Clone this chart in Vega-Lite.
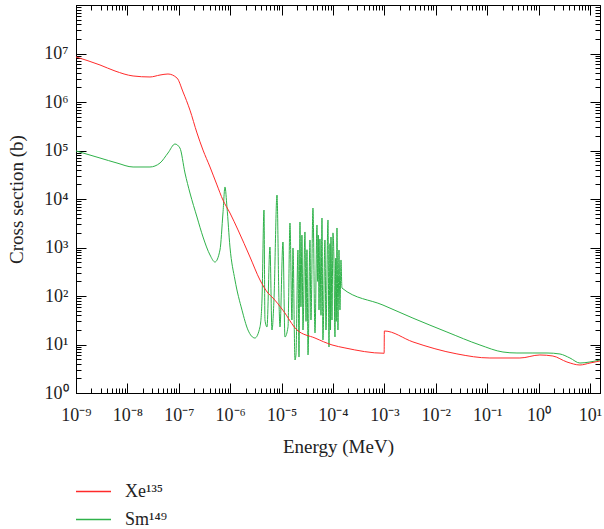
{
  "$schema": "https://vega.github.io/schema/vega-lite/v6.json",
  "width": 524,
  "height": 388,
  "autosize": {"type": "none"},
  "padding": {"left": 76, "top": 5, "right": 4, "bottom": 136},
  "background": "white",
  "config": {
    "view": {"stroke": "black", "strokeWidth": 1},
    "font": "Liberation Serif"
  },
  "data": {
    "values": [
      {"iso": "Sm¹⁴⁹", "E": 1e-9, "s": 98000},
      {"iso": "Sm¹⁴⁹", "E": 2.93e-9, "s": 70000},
      {"iso": "Sm¹⁴⁹", "E": 6.28e-9, "s": 55200},
      {"iso": "Sm¹⁴⁹", "E": 1.29e-8, "s": 45700},
      {"iso": "Sm¹⁴⁹", "E": 2.75e-8, "s": 45700},
      {"iso": "Sm¹⁴⁹", "E": 4.31e-8, "s": 55200},
      {"iso": "Sm¹⁴⁹", "E": 6.16e-8, "s": 88800},
      {"iso": "Sm¹⁴⁹", "E": 8.43e-8, "s": 136000},
      {"iso": "Sm¹⁴⁹", "E": 1.05e-7, "s": 113000},
      {"iso": "Sm¹⁴⁹", "E": 1.32e-7, "s": 34400},
      {"iso": "Sm¹⁴⁹", "E": 1.65e-7, "s": 13300},
      {"iso": "Sm¹⁴⁹", "E": 2.26e-7, "s": 4250},
      {"iso": "Sm¹⁴⁹", "E": 2.96e-7, "s": 1650},
      {"iso": "Sm¹⁴⁹", "E": 4.05e-7, "s": 700},
      {"iso": "Sm¹⁴⁹", "E": 5.06e-7, "s": 502},
      {"iso": "Sm¹⁴⁹", "E": 6.33e-7, "s": 888},
      {"iso": "Sm¹⁴⁹", "E": 7.24e-7, "s": 5150},
      {"iso": "Sm¹⁴⁹", "E": 7.92e-7, "s": 17700},
      {"iso": "Sm¹⁴⁹", "E": 8.66e-7, "s": 6800},
      {"iso": "Sm¹⁴⁹", "E": 9.91e-7, "s": 1020},
      {"iso": "Sm¹⁴⁹", "E": 1.24e-6, "s": 214},
      {"iso": "Sm¹⁴⁹", "E": 1.70e-6, "s": 51},
      {"iso": "Sm¹⁴⁹", "E": 2.22e-6, "s": 19.9},
      {"iso": "Sm¹⁴⁹", "E": 3.03e-6, "s": 13.6},
      {"iso": "Sm¹⁴⁹", "E": 3.80e-6, "s": 23},
      {"iso": "Sm¹⁴⁹", "E": 4.16e-6, "s": 82.7},
      {"iso": "Sm¹⁴⁹", "E": 4.55e-6, "s": 5930},
      {"iso": "Sm¹⁴⁹", "E": 4.75e-6, "s": 32},
      {"iso": "Sm¹⁴⁹", "E": 5.20e-6, "s": 23},
      {"iso": "Sm¹⁴⁹", "E": 5.94e-6, "s": 1024},
      {"iso": "Sm¹⁴⁹", "E": 6.50e-6, "s": 19.9},
      {"iso": "Sm¹⁴⁹", "E": 7.11e-6, "s": 82.7},
      {"iso": "Sm¹⁴⁹", "E": 8.15e-6, "s": 12090},
      {"iso": "Sm¹⁴⁹", "E": 8.89e-6, "s": 82.7},
      {"iso": "Sm¹⁴⁹", "E": 9.31e-6, "s": 23},
      {"iso": "Sm¹⁴⁹", "E": 1.064e-5, "s": 1298},
      {"iso": "Sm¹⁴⁹", "E": 1.164e-5, "s": 14.3},
      {"iso": "Sm¹⁴⁹", "E": 1.334e-5, "s": 23},
      {"iso": "Sm¹⁴⁹", "E": 1.456e-5, "s": 3200},
      {"iso": "Sm¹⁴⁹", "E": 1.592e-5, "s": 32},
      {"iso": "Sm¹⁴⁹", "E": 1.667e-5, "s": 977},
      {"iso": "Sm¹⁴⁹", "E": 1.824e-5, "s": 4.79},
      {"iso": "Sm¹⁴⁹", "E": 1.905e-5, "s": 6.08},
      {"iso": "Sm¹⁴⁹", "E": 2.084e-5, "s": 888},
      {"iso": "Sm¹⁴⁹", "E": 2.183e-5, "s": 5.52},
      {"iso": "Sm¹⁴⁹", "E": 2.28e-5, "s": 3357},
      {"iso": "Sm¹⁴⁹", "E": 2.38e-5, "s": 60},
      {"iso": "Sm¹⁴⁹", "E": 2.49e-5, "s": 1800},
      {"iso": "Sm¹⁴⁹", "E": 2.61e-5, "s": 19.9},
      {"iso": "Sm¹⁴⁹", "E": 2.85e-5, "s": 2089},
      {"iso": "Sm¹⁴⁹", "E": 2.99e-5, "s": 30},
      {"iso": "Sm¹⁴⁹", "E": 3.12e-5, "s": 900},
      {"iso": "Sm¹⁴⁹", "E": 3.27e-5, "s": 6.08},
      {"iso": "Sm¹⁴⁹", "E": 3.57e-5, "s": 1428},
      {"iso": "Sm¹⁴⁹", "E": 3.73e-5, "s": 32},
      {"iso": "Sm¹⁴⁹", "E": 4.08e-5, "s": 6520},
      {"iso": "Sm¹⁴⁹", "E": 4.47e-5, "s": 17.3},
      {"iso": "Sm¹⁴⁹", "E": 4.89e-5, "s": 2911},
      {"iso": "Sm¹⁴⁹", "E": 5.03e-5, "s": 200},
      {"iso": "Sm¹⁴⁹", "E": 5.18e-5, "s": 1800},
      {"iso": "Sm¹⁴⁹", "E": 5.35e-5, "s": 51.4},
      {"iso": "Sm¹⁴⁹", "E": 5.58e-5, "s": 1500},
      {"iso": "Sm¹⁴⁹", "E": 5.85e-5, "s": 40},
      {"iso": "Sm¹⁴⁹", "E": 6.11e-5, "s": 4055},
      {"iso": "Sm¹⁴⁹", "E": 6.38e-5, "s": 12.4},
      {"iso": "Sm¹⁴⁹", "E": 6.98e-5, "s": 1428},
      {"iso": "Sm¹⁴⁹", "E": 7.31e-5, "s": 19.9},
      {"iso": "Sm¹⁴⁹", "E": 8.00e-5, "s": 3690},
      {"iso": "Sm¹⁴⁹", "E": 8.36e-5, "s": 8.88},
      {"iso": "Sm¹⁴⁹", "E": 8.75e-5, "s": 1200},
      {"iso": "Sm¹⁴⁹", "E": 8.95e-5, "s": 20},
      {"iso": "Sm¹⁴⁹", "E": 9.14e-5, "s": 1645},
      {"iso": "Sm¹⁴⁹", "E": 9.57e-5, "s": 32},
      {"iso": "Sm¹⁴⁹", "E": 1.0e-4, "s": 2000},
      {"iso": "Sm¹⁴⁹", "E": 1.045e-4, "s": 553},
      {"iso": "Sm¹⁴⁹", "E": 1.094e-4, "s": 14.3},
      {"iso": "Sm¹⁴⁹", "E": 1.13e-4, "s": 600},
      {"iso": "Sm¹⁴⁹", "E": 1.16e-4, "s": 30},
      {"iso": "Sm¹⁴⁹", "E": 1.197e-4, "s": 2524},
      {"iso": "Sm¹⁴⁹", "E": 1.250e-4, "s": 19.9},
      {"iso": "Sm¹⁴⁹", "E": 1.309e-4, "s": 888},
      {"iso": "Sm¹⁴⁹", "E": 1.368e-4, "s": 51.4},
      {"iso": "Sm¹⁴⁹", "E": 1.432e-4, "s": 553},
      {"iso": "Sm¹⁴⁹", "E": 1.496e-4, "s": 146},
      {"iso": "Sm¹⁴⁹", "E": 9.4e-4, "s": 65},
      {"iso": "Sm¹⁴⁹", "E": 3.6e-3, "s": 35},
      {"iso": "Sm¹⁴⁹", "E": 0.0165, "s": 18.1},
      {"iso": "Sm¹⁴⁹", "E": 0.0724, "s": 9.77},
      {"iso": "Sm¹⁴⁹", "E": 0.203, "s": 7.0},
      {"iso": "Sm¹⁴⁹", "E": 0.38, "s": 6.68},
      {"iso": "Sm¹⁴⁹", "E": 0.778, "s": 6.68},
      {"iso": "Sm¹⁴⁹", "E": 1.46, "s": 6.68},
      {"iso": "Sm¹⁴⁹", "E": 2.61, "s": 6.37},
      {"iso": "Sm¹⁴⁹", "E": 4.08, "s": 5.27},
      {"iso": "Sm¹⁴⁹", "E": 6.39, "s": 4.15},
      {"iso": "Sm¹⁴⁹", "E": 10, "s": 4.36},
      {"iso": "Sm¹⁴⁹", "E": 15.7, "s": 4.79},
      {"iso": "Xe¹³⁵", "E": 1e-9, "s": 8500000},
      {"iso": "Xe¹³⁵", "E": 2.93e-9, "s": 5800000},
      {"iso": "Xe¹³⁵", "E": 5.74e-9, "s": 4360000},
      {"iso": "Xe¹³⁵", "E": 1.29e-8, "s": 3440000},
      {"iso": "Xe¹³⁵", "E": 2.75e-8, "s": 3280000},
      {"iso": "Xe¹³⁵", "E": 4.31e-8, "s": 3600000},
      {"iso": "Xe¹³⁵", "E": 6.16e-8, "s": 3780000},
      {"iso": "Xe¹³⁵", "E": 9.23e-8, "s": 3120000},
      {"iso": "Xe¹³⁵", "E": 1.21e-7, "s": 1610000},
      {"iso": "Xe¹³⁵", "E": 1.65e-7, "s": 680000},
      {"iso": "Xe¹³⁵", "E": 2.26e-7, "s": 230000},
      {"iso": "Xe¹³⁵", "E": 2.96e-7, "s": 102000},
      {"iso": "Xe¹³⁵", "E": 4.05e-7, "s": 45700},
      {"iso": "Xe¹³⁵", "E": 5.53e-7, "s": 19500},
      {"iso": "Xe¹³⁵", "E": 7.24e-7, "s": 9500},
      {"iso": "Xe¹³⁵", "E": 9.91e-7, "s": 5140},
      {"iso": "Xe¹³⁵", "E": 1.42e-6, "s": 2300},
      {"iso": "Xe¹³⁵", "E": 2.43e-6, "s": 637},
      {"iso": "Xe¹³⁵", "E": 3.80e-6, "s": 214},
      {"iso": "Xe¹³⁵", "E": 5.44e-6, "s": 115},
      {"iso": "Xe¹³⁵", "E": 6.8e-6, "s": 91},
      {"iso": "Xe¹³⁵", "E": 1.06e-5, "s": 51},
      {"iso": "Xe¹³⁵", "E": 2.0e-5, "s": 19.9},
      {"iso": "Xe¹³⁵", "E": 4.47e-5, "s": 13.6},
      {"iso": "Xe¹³⁵", "E": 9.57e-5, "s": 9.8},
      {"iso": "Xe¹³⁵", "E": 1.71e-4, "s": 8.5},
      {"iso": "Xe¹³⁵", "E": 9.9e-4, "s": 6.6},
      {"iso": "Xe¹³⁵", "E": 1.0e-3, "s": 19},
      {"iso": "Xe¹³⁵", "E": 3.6e-3, "s": 11.3},
      {"iso": "Xe¹³⁵", "E": 0.0258, "s": 6.4},
      {"iso": "Xe¹³⁵", "E": 0.113, "s": 5.27},
      {"iso": "Xe¹³⁵", "E": 0.434, "s": 5.27},
      {"iso": "Xe¹³⁵", "E": 1.06, "s": 6.08},
      {"iso": "Xe¹³⁵", "E": 1.9, "s": 5.79},
      {"iso": "Xe¹³⁵", "E": 3.57, "s": 4.36},
      {"iso": "Xe¹³⁵", "E": 6.39, "s": 3.78},
      {"iso": "Xe¹³⁵", "E": 10, "s": 4.15},
      {"iso": "Xe¹³⁵", "E": 15.7, "s": 4.57}
    ]
  },
  "layer": [
    {
      "mark": {"type": "line", "strokeWidth": 1, "clip": true, "interpolate": "monotone"},
      "encoding": {
        "x": {
          "field": "E", "type": "quantitative",
          "scale": {"type": "log", "domain": [1e-9, 15.7], "nice": false},
          "axis": {
            "orient": "bottom",
            "values": [1e-9,2e-9,3e-9,4e-9,5e-9,6e-9,7e-9,8e-9,9e-9,1e-8,2e-8,3e-8,4e-8,5e-8,6e-8,7e-8,8e-8,9e-8,1e-7,2e-7,3e-7,4e-7,5e-7,6e-7,7e-7,8e-7,9e-7,1e-6,2e-6,3e-6,4e-6,5e-6,6e-6,7e-6,8e-6,9e-6,1e-5,2e-5,3e-5,4e-5,5e-5,6e-5,7e-5,8e-5,9e-5,1e-4,2e-4,3e-4,4e-4,5e-4,6e-4,7e-4,8e-4,9e-4,1e-3,2e-3,3e-3,4e-3,5e-3,6e-3,7e-3,8e-3,9e-3,0.01,0.02,0.03,0.04,0.05,0.06,0.07,0.08,0.09,0.1,0.2,0.3,0.4,0.5,0.6,0.7,0.8,0.9,1,2,3,4,5,6,7,8,9,10],
            "tickSize": {"condition": {"test": "abs(log(datum.value)/LN10 - round(log(datum.value)/LN10)) < 1e-6", "value": -10}, "value": -5},
            "tickColor": "black",
            "domainColor": "black",
            "grid": false,
            "labelExpr": "abs(log(datum.value)/LN10 - round(log(datum.value)/LN10)) < 1e-6 ? '10' + (round(log(datum.value)/LN10) < 0 ? '⁻' : '') + substring('⁰¹²³⁴⁵⁶⁷⁸⁹', abs(round(log(datum.value)/LN10)), abs(round(log(datum.value)/LN10)) + 1) : ''",
            "labelFont": "Liberation Serif",
            "labelFontSize": 18,
            "labelColor": "#222",
            "labelPadding": 23,
            "labelFlush": false,
            "labelOverlap": false,
            "labelBound": false,
            "title": "Energy (MeV)",
            "titleFont": "Liberation Serif",
            "titleFontSize": 19,
            "titleFontWeight": "normal",
            "titleColor": "#222",
            "titlePadding": 8
          }
        },
        "y": {
          "field": "s", "type": "quantitative",
          "scale": {"type": "log", "domain": [1, 100000000], "nice": false},
          "axis": {
            "orient": "left",
            "values": [1,2,3,4,5,6,7,8,9,10,20,30,40,50,60,70,80,90,100,200,300,400,500,600,700,800,900,1000,2000,3000,4000,5000,6000,7000,8000,9000,10000,20000,30000,40000,50000,60000,70000,80000,90000,100000,200000,300000,400000,500000,600000,700000,800000,900000,1000000,2000000,3000000,4000000,5000000,6000000,7000000,8000000,9000000,10000000,20000000,30000000,40000000,50000000,60000000,70000000,80000000,90000000],
            "tickSize": {"condition": {"test": "abs(log(datum.value)/LN10 - round(log(datum.value)/LN10)) < 1e-6", "value": -10}, "value": -5},
            "tickColor": "black",
            "domainColor": "black",
            "grid": false,
            "labelExpr": "abs(log(datum.value)/LN10 - round(log(datum.value)/LN10)) < 1e-6 ? '10' + (round(log(datum.value)/LN10) < 0 ? '⁻' : '') + substring('⁰¹²³⁴⁵⁶⁷⁸⁹', abs(round(log(datum.value)/LN10)), abs(round(log(datum.value)/LN10)) + 1) : ''",
            "labelFont": "Liberation Serif",
            "labelFontSize": 18,
            "labelColor": "#222",
            "labelPadding": 18,
            "labelFlush": false,
            "labelOverlap": false,
            "labelBound": false,
            "title": "Cross section (b)",
            "titleFont": "Liberation Serif",
            "titleFontSize": 19,
            "titleFontWeight": "normal",
            "titleColor": "#222",
            "titlePadding": 17
          }
        },
        "color": {
          "field": "iso", "type": "nominal",
          "scale": {"domain": ["Xe¹³⁵", "Sm¹⁴⁹"], "range": ["#ff2a2a", "#2fb24a"]},
          "legend": {
            "title": null,
            "orient": "none",
            "legendX": -1,
            "legendY": 468,
            "symbolType": "stroke",
            "symbolSize": 1225,
            "symbolStrokeWidth": 1.3,
            "labelFont": "Liberation Serif",
            "labelFontSize": 18,
            "labelColor": "#222",
            "labelOffset": 13,
            "rowPadding": -8
          }
        }
      }
    },
    {
      "mark": {"type": "line", "opacity": 0, "clip": true},
      "encoding": {
        "x": {
          "field": "E", "type": "quantitative",
          "axis": {
            "orient": "top",
            "values": [1e-9,2e-9,3e-9,4e-9,5e-9,6e-9,7e-9,8e-9,9e-9,1e-8,2e-8,3e-8,4e-8,5e-8,6e-8,7e-8,8e-8,9e-8,1e-7,2e-7,3e-7,4e-7,5e-7,6e-7,7e-7,8e-7,9e-7,1e-6,2e-6,3e-6,4e-6,5e-6,6e-6,7e-6,8e-6,9e-6,1e-5,2e-5,3e-5,4e-5,5e-5,6e-5,7e-5,8e-5,9e-5,1e-4,2e-4,3e-4,4e-4,5e-4,6e-4,7e-4,8e-4,9e-4,1e-3,2e-3,3e-3,4e-3,5e-3,6e-3,7e-3,8e-3,9e-3,0.01,0.02,0.03,0.04,0.05,0.06,0.07,0.08,0.09,0.1,0.2,0.3,0.4,0.5,0.6,0.7,0.8,0.9,1,2,3,4,5,6,7,8,9,10],
            "tickSize": {"condition": {"test": "abs(log(datum.value)/LN10 - round(log(datum.value)/LN10)) < 1e-6", "value": -10}, "value": -5},
            "tickColor": "black",
            "domainColor": "black",
            "grid": false,
            "labels": false,
            "title": null
          }
        },
        "y": {
          "field": "s", "type": "quantitative",
          "axis": {
            "orient": "right",
            "values": [1,2,3,4,5,6,7,8,9,10,20,30,40,50,60,70,80,90,100,200,300,400,500,600,700,800,900,1000,2000,3000,4000,5000,6000,7000,8000,9000,10000,20000,30000,40000,50000,60000,70000,80000,90000,100000,200000,300000,400000,500000,600000,700000,800000,900000,1000000,2000000,3000000,4000000,5000000,6000000,7000000,8000000,9000000,10000000,20000000,30000000,40000000,50000000,60000000,70000000,80000000,90000000],
            "tickSize": {"condition": {"test": "abs(log(datum.value)/LN10 - round(log(datum.value)/LN10)) < 1e-6", "value": -10}, "value": -5},
            "tickColor": "black",
            "domainColor": "black",
            "grid": false,
            "labels": false,
            "title": null
          }
        },
        "detail": {"field": "iso"}
      }
    }
  ],
  "resolve": {"axis": {"x": "independent", "y": "independent"}}
}
